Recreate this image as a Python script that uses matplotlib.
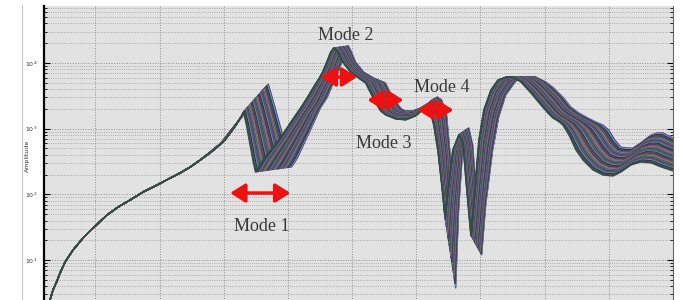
import numpy as np
import matplotlib
matplotlib.use("Agg")
import matplotlib.pyplot as plt
from matplotlib.lines import Line2D

# --- FRF bundle ---
# low-frequency part shared by every sample
freq_common = [24.7, 29.4, 34.0, 40.3, 45.0, 52.8, 65.3, 80.9, 96.5, 118.3,
               135.5, 154.2, 174.5, 196.3, 213.5, 232.2, 247.8, 263.4]
amp_common = [1.74, 2.47, 3.51, 4.81, 6.37, 9.35, 14.3, 21.7, 30.8, 48.6,
              64.3, 82.2, 109, 139, 171, 212, 261, 334]

# edge sample with the lowest natural frequencies
freq_low = [279.0, 290.0, 300.9, 310.3, 318.1, 322.7, 327.4, 330.5,
            335.2, 341.5, 346.1, 349.3,
            354.0, 361.7, 372.7, 385.2, 396.1, 408.6, 419.5, 430.4, 439.8, 447.6,
            453.8, 461.6, 466.3, 471.0,
            477.2, 485.0, 497.5, 510.0, 520.9, 528.7, 536.5, 544.3, 552.1, 567.7,
            583.3, 598.9, 606.7, 614.6,
            620.8, 627.0, 633.3, 639.5, 644.2, 648.9, 656.7, 666.0, 672.3, 678.5,
            684.8, 689.5, 697.3, 705.0, 716.0,
            726.9, 739.4, 750.4, 762.8, 778.5, 794.0, 804.9, 812.7, 820.5, 828.3,
            837.7, 848.6, 859.5, 875.2, 890.8, 906.4, 918.8, 934.5, 950.1, 965.7,
            981.3, 1009.4]
amp_low = [427, 526, 650, 861, 1099, 1309, 1560, 1795,
           1138, 526, 301, 219,
           261, 346, 474, 673, 955, 1455, 2065, 3037, 4315, 5700,
           7290, 11110, 14700, 16900,
           14700, 10350, 7290, 5910, 4960, 3490, 2460, 1858, 1617, 1406,
           1357, 1560, 1858, 2065,
           1928, 1138, 474, 139, 48.6, 117, 474, 802, 628, 117,
           24.1, 82.2, 673, 1928, 3880,
           5510, 6120, 6120, 5140, 3490, 2294, 1734, 1455, 1309, 1138,
           802, 474, 334, 235, 197, 190, 219, 280, 311, 301,
           261, 212]

# edge sample with the highest natural frequencies
freq_high = [279.0, 297.8, 310.3, 322.7, 333.7, 344.6, 355.5, 369.6,
             378.9, 389.8, 399.2, 405.4,
             410.1, 414.8, 424.2, 435.1, 442.9, 450.7, 461.6, 469.4, 475.7, 480.3,
             485.0, 488.2, 491.3, 494.3,
             499.1, 505.3, 517.8, 533.4, 552.1, 559.9, 570.9, 577.1, 583.3, 594.3,
             606.7, 619.2, 627.0, 633.3,
             639.5, 647.3, 653.6, 658.3, 661.4, 666.0, 672.3, 681.7, 687.9, 694.1,
             701.9, 708.2, 719.1, 728.5, 739.4,
             755.0, 770.6, 786.2, 801.8, 814.3, 828.3, 840.8, 853.3, 867.3, 879.8,
             890.8, 900.1, 909.5, 918.8, 928.2, 937.6, 951.6, 965.7, 975.0, 984.4,
             993.8, 1009.4]
amp_high = [442, 628, 923, 1309, 1858, 2460, 3260, 4786,
            2294, 955, 427, 261,
            301, 358, 565, 955, 1406, 2065, 3037, 4620, 6340, 8110,
            11110, 14190, 16900, 18150,
            14700, 10350, 7290, 5910, 4960, 3490, 2377, 1995, 1858, 1858,
            2065, 2460, 2832, 3037,
            2735, 1617, 334, 28.7, 3.76, 57.9, 474, 1025, 565, 82.2,
            12.0, 69.0, 474, 1507, 3260,
            5320, 6120, 6120, 5140, 4160, 3037, 2138, 1734, 1455, 1265,
            1138, 955, 673, 526, 508, 508, 628, 802, 861, 861,
            774, 650]

# position of each sample inside the bundle (0 = low edge, 1 = high edge)
sample_pos = [0.00, 0.02, 0.03, 0.05, 0.07, 0.08, 0.10, 0.12, 0.13, 0.15,
              0.17, 0.19, 0.20, 0.22, 0.24, 0.25, 0.27, 0.29, 0.30, 0.32,
              0.34, 0.36, 0.37, 0.39, 0.41, 0.42, 0.44, 0.46, 0.48, 0.49,
              0.51, 0.53, 0.54, 0.56, 0.58, 0.60, 0.61, 0.63, 0.65, 0.66,
              0.68, 0.70, 0.72, 0.73, 0.75, 0.77, 0.78, 0.80, 0.82, 0.84,
              0.85, 0.87, 0.89, 0.90, 0.92, 0.94, 0.96, 0.97, 0.99, 1.00]

# mode annotations
mode_labels = ["Mode 1", "Mode 2", "Mode 3", "Mode 4"]
label_freq = [360, 490, 549, 640]
label_amp = [33, 26700, 605, 4315]
arrow_from = [310, 451, 524, 602]
arrow_to = [404, 508, 580, 658]
arrow_amp = [105, 6120, 2735, 1928]

colors = ["#1b5e20", "#6a1b9a", "#c2185b", "#00695c", "#212121", "#26c6da",
          "#7b8b2b", "#3949ab", "#ad1fad", "#2e7d32", "#4e342e", "#5c6bc0",
          "#8e24aa", "#00897b", "#9e9d24", "#37474f", "#d84aa0"]

fig = plt.figure(figsize=(6.81, 3.0), dpi=100)
ax = fig.add_axes([44/681, 1 - 325.8/300, 629/681, 319.8/300])
ax.set_facecolor("#e2e2e2")

fl = np.concatenate([freq_common, freq_low])
fh = np.concatenate([freq_common, freq_high])
al = np.log10(np.concatenate([amp_common, amp_low]))
ah = np.log10(np.concatenate([amp_common, amp_high]))
# draw from the high edge down so the dark low-edge sample ends on top
for i in range(len(sample_pos) - 1, -1, -1):
    t = sample_pos[i]
    f = fl + t * (fh - fl)
    a = 10 ** ((1 - t) * al + t * ah)
    ax.plot(f, a, color=colors[i % len(colors)], lw=0.9, alpha=0.95, zorder=2)

ax.set_yscale("log")
ax.set_xlim(20, 1000)
ax.set_ylim(1, 10 ** 4.868)
ax.set_xticks(np.arange(100, 1001, 100))
ax.set_yticks([10, 100, 1000, 10000])
ax.grid(True, which="major", ls=":", color="#8c8c8c", lw=0.7)
ax.grid(True, which="minor", axis="y", ls=":", color="#9a9a9a", lw=0.6)
ax.tick_params(axis="x", labelbottom=False, length=0)
ax.tick_params(axis="y", which="both", direction="in", right=True,
               labelsize=4.5, labelcolor="#333333", pad=5)
ax.tick_params(axis="y", which="major", length=4)
ax.tick_params(axis="y", which="minor", length=2.5)
ax.spines["top"].set_visible(False)
ax.spines["left"].set_linewidth(1.6)
ax.spines["right"].set_color("#666666")
ax.spines["right"].set_linewidth(0.8)

fig.text(27/681, 1 - 156/300, "Amplitude", rotation=90, fontsize=4.5,
         color="#333333", ha="center", va="center")
fig.add_artist(Line2D([22/681, 22/681], [0, 1 - 5/300], color="#c8c8c8", lw=0.8))

for lab, x, y in zip(mode_labels, label_freq, label_amp):
    ax.text(x, y, lab, family="Liberation Serif", fontsize=13, color="#3a3a3a",
            ha="center", va="center", zorder=5)
for x0, x1, y in zip(arrow_from, arrow_to, arrow_amp):
    ax.annotate("", xy=(x1, y), xytext=(x0, y),
                arrowprops=dict(arrowstyle="<|-|>,head_length=0.6,head_width=0.38",
                                color="#ee1111", lw=2.5, mutation_scale=15,
                                shrinkA=0, shrinkB=0), zorder=6)

fig.savefig("out.png", dpi=100)
